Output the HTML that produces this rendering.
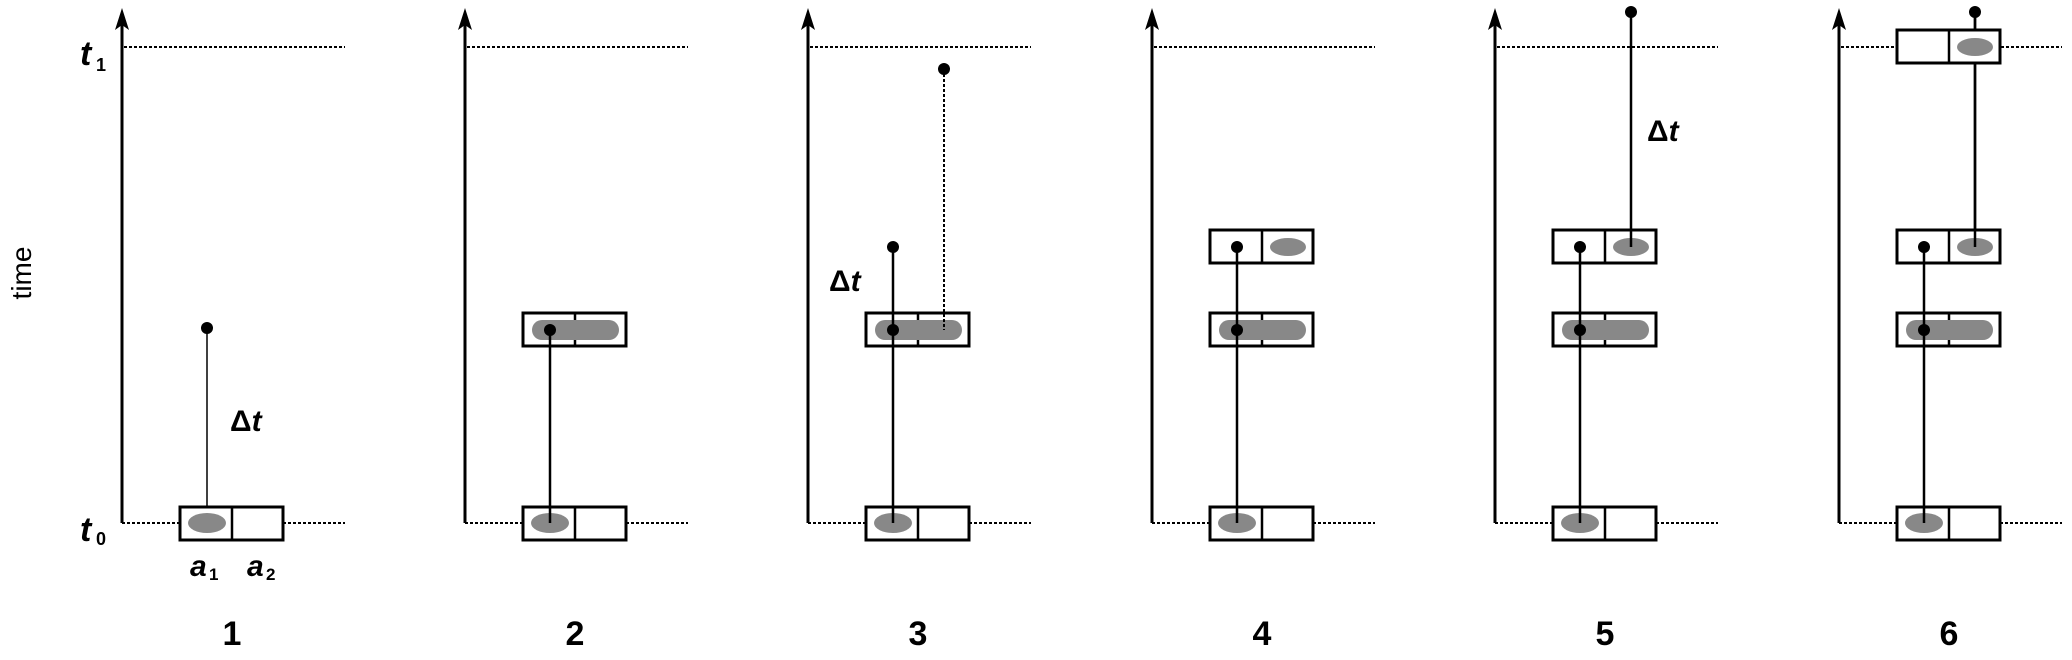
<!DOCTYPE html>
<html><head><meta charset="utf-8"><style>
html,body{margin:0;padding:0;background:#fff;}
svg{display:block;}
text{font-family:"Liberation Sans",sans-serif;font-weight:bold;fill:#000;}
</style></head><body>
<svg width="2072" height="660" viewBox="0 0 2072 660" xmlns="http://www.w3.org/2000/svg">
<defs>
<g id="axis">
  <line x1="0" y1="22" x2="0" y2="523" stroke="#000" stroke-width="3"/>
  <polygon points="0,8 -7,30 0,25 7,30" fill="#000"/>
  <line x1="2" y1="47" x2="223" y2="47" stroke="#000" stroke-width="2" stroke-dasharray="3,2"/>
  <line x1="0" y1="523" x2="58" y2="523" stroke="#000" stroke-width="2" stroke-dasharray="3,2"/>
  <line x1="161" y1="523" x2="223" y2="523" stroke="#000" stroke-width="2" stroke-dasharray="3,2"/>
</g>
<g id="box">
  <rect x="58" y="0" width="103" height="33" fill="#fff" stroke="#000" stroke-width="3"/>
  <line x1="110" y1="0" x2="110" y2="33" stroke="#000" stroke-width="2.5"/>
</g>
<g id="bottom">
  <use href="#box" y="507"/>
  <ellipse cx="85" cy="523" rx="19" ry="10" fill="#888"/>
</g>
<g id="mid">
  <use href="#box" y="313"/>
  <rect x="67" y="320" width="87" height="20" rx="10" fill="#888"/>
</g>
<g id="upper">
  <use href="#box" y="230"/>
  <ellipse cx="136" cy="247" rx="18" ry="9" fill="#888"/>
</g>
</defs>

<!-- left labels -->
<text x="80" y="65" font-size="34" font-style="italic" font-family="Liberation Serif">t</text>
<text x="96" y="71" font-size="18">1</text>
<text x="80" y="541" font-size="34" font-style="italic" font-family="Liberation Serif">t</text>
<text x="96" y="545" font-size="18">0</text>
<text transform="translate(31,273) rotate(-90)" text-anchor="middle" font-size="28" style="font-weight:normal">time</text>

<!-- Panel 1 -->
<g transform="translate(122,0)">
  <use href="#axis"/>
  <line x1="85" y1="328" x2="85" y2="523" stroke="#000" stroke-width="1.5"/>
  <use href="#bottom"/>
  <circle cx="85" cy="328" r="6"/>
  <text x="108" y="431" font-size="30">Δ<tspan font-style="italic">t</tspan></text>
  <text x="68" y="576" font-size="30" font-style="italic">a</text>
  <text x="87" y="580" font-size="17">1</text>
  <text x="125" y="576" font-size="30" font-style="italic">a</text>
  <text x="144" y="580" font-size="17">2</text>
  <text x="110" y="645" font-size="34" text-anchor="middle">1</text>
</g>

<!-- Panel 2 -->
<g transform="translate(465,0)">
  <use href="#axis"/>
  <use href="#bottom"/>
  <use href="#mid"/>
  <line x1="85" y1="330" x2="85" y2="523" stroke="#000" stroke-width="2.5"/>
  <circle cx="85" cy="330" r="6"/>
  <text x="110" y="645" font-size="34" text-anchor="middle">2</text>
</g>

<!-- Panel 3 -->
<g transform="translate(808,0)">
  <use href="#axis"/>
  <use href="#bottom"/>
  <use href="#mid"/>
  <line x1="85" y1="247" x2="85" y2="523" stroke="#000" stroke-width="2.5"/>
  <circle cx="85" cy="247" r="6"/>
  <circle cx="85" cy="330" r="6"/>
  <line x1="136" y1="69" x2="136" y2="330" stroke="#000" stroke-width="2" stroke-dasharray="3,2"/>
  <circle cx="136" cy="69" r="6"/>
  <text x="21" y="291" font-size="30">Δ<tspan font-style="italic">t</tspan></text>
  <text x="110" y="645" font-size="34" text-anchor="middle">3</text>
</g>

<!-- Panel 4 -->
<g transform="translate(1152,0)">
  <use href="#axis"/>
  <use href="#bottom"/>
  <use href="#mid"/>
  <use href="#upper"/>
  <line x1="85" y1="247" x2="85" y2="523" stroke="#000" stroke-width="2.5"/>
  <circle cx="85" cy="247" r="6"/>
  <circle cx="85" cy="330" r="6"/>
  <text x="110" y="645" font-size="34" text-anchor="middle">4</text>
</g>

<!-- Panel 5 -->
<g transform="translate(1495,0)">
  <use href="#axis"/>
  <use href="#bottom"/>
  <use href="#mid"/>
  <use href="#upper"/>
  <line x1="85" y1="247" x2="85" y2="523" stroke="#000" stroke-width="2.5"/>
  <circle cx="85" cy="247" r="6"/>
  <circle cx="85" cy="330" r="6"/>
  <line x1="136" y1="12" x2="136" y2="247" stroke="#000" stroke-width="2.5"/>
  <circle cx="136" cy="12" r="6"/>
  <text x="152" y="141" font-size="30">Δ<tspan font-style="italic">t</tspan></text>
  <text x="110" y="645" font-size="34" text-anchor="middle">5</text>
</g>

<!-- Panel 6 -->
<g transform="translate(1839,0)">
  <use href="#axis"/>
  <use href="#bottom"/>
  <use href="#mid"/>
  <use href="#upper"/>
  <line x1="85" y1="247" x2="85" y2="523" stroke="#000" stroke-width="2.5"/>
  <circle cx="85" cy="247" r="6"/>
  <circle cx="85" cy="330" r="6"/>
  <line x1="136" y1="12" x2="136" y2="247" stroke="#000" stroke-width="2.5"/>
  <use href="#box" y="30"/>
  <ellipse cx="136" cy="47" rx="18" ry="9" fill="#888"/>
  <line x1="136" y1="12" x2="136" y2="30" stroke="#000" stroke-width="2.5"/>
  <line x1="136" y1="63" x2="136" y2="230" stroke="#000" stroke-width="2.5"/>
  <circle cx="136" cy="12" r="6"/>
  <text x="110" y="645" font-size="34" text-anchor="middle">6</text>
</g>
</svg>
</body></html>
